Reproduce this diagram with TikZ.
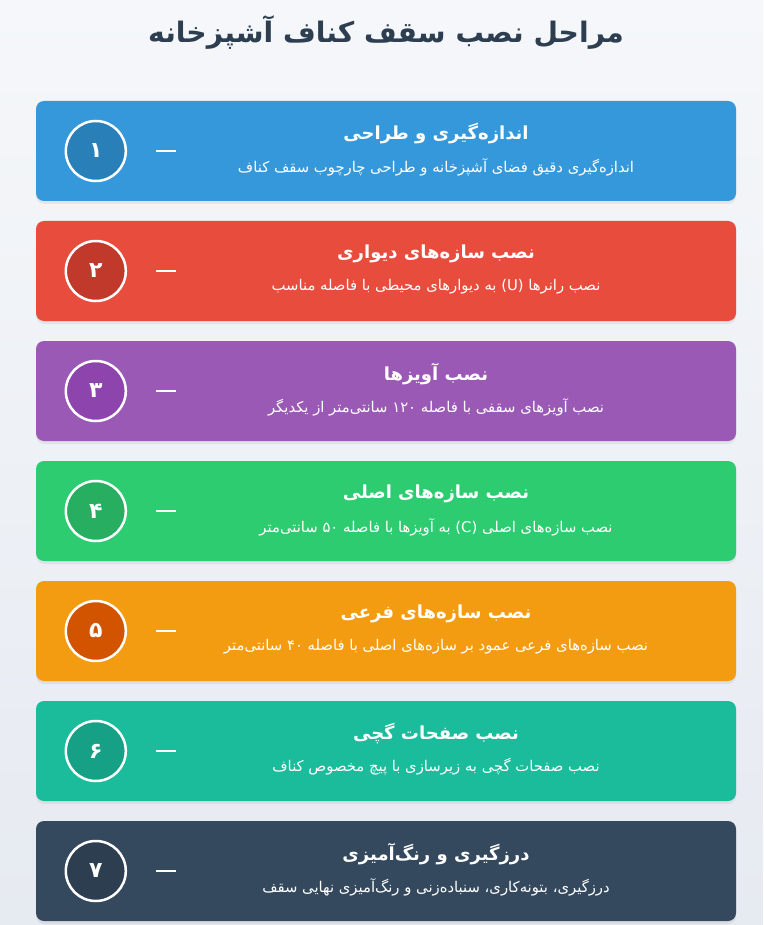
\documentclass[tikz,border=0pt]{standalone}
\usepackage{fontspec}
\newfontfamily\fa[Script=Arabic]{DejaVu Sans}
\TeXXeTstate=1
\usetikzlibrary{shadows}
\definecolor{bgtop}{HTML}{F5F7FA}
\definecolor{bgbot}{HTML}{E6EAF1}
\definecolor{ink}{HTML}{2C3E50}
\definecolor{cA}{HTML}{3498DB}\definecolor{dA}{HTML}{2980B9}
\definecolor{cB}{HTML}{E74C3C}\definecolor{dB}{HTML}{C0392B}
\definecolor{cC}{HTML}{9B59B6}\definecolor{dC}{HTML}{8E44AD}
\definecolor{cD}{HTML}{2ECC71}\definecolor{dD}{HTML}{27AE60}
\definecolor{cE}{HTML}{F39C12}\definecolor{dE}{HTML}{D35400}
\definecolor{cF}{HTML}{1ABC9C}\definecolor{dF}{HTML}{16A085}
\definecolor{cG}{HTML}{34495E}\definecolor{dG}{HTML}{2C3E50}
\tikzset{
  stepbox/.style={draw=none, rounded corners=8pt, minimum width=700pt, minimum height=100pt, inner sep=0pt,
    drop shadow={opacity=0.12, shadow xshift=0pt, shadow yshift=-3pt}},
  numcirc/.style={circle, draw=white, line width=2.5pt, minimum size=60pt, inner sep=0pt, text=white,
    font=\fa\bfseries\fontsize{22}{26}\selectfont},
  dashline/.style={draw=white, line width=2pt},
  steptitle/.style={text=white, inner sep=0pt, font=\fa\bfseries\fontsize{18}{22}\selectfont},
  stepsub/.style={text=white, inner sep=0pt, font=\fa\fontsize{14.8}{18}\selectfont},
  maintitle/.style={text=ink, inner sep=0pt, font=\fa\bfseries\fontsize{28.2}{33}\selectfont}
}
\newcommand\stepitem[7]{%
  \node[stepbox, fill=#3] (box#1) at (386,#2+50) {};
  \node[numcirc, fill=#4] (num#1) at ([xshift=60pt]box#1.west) {#5};
  \coordinate (da#1) at ([xshift=120pt]box#1.west);
  \coordinate (db#1) at ([xshift=140pt]box#1.west);
  \draw[dashline] (da#1) -- (db#1);
  \node[steptitle] (title#1) at (436,#2+33) {#6};
  \node[stepsub] (sub#1) at (436,#2+66) {#7};
}
\begin{document}
\begin{tikzpicture}[x=1pt,y=-1pt]
\useasboundingbox (0,0) rectangle (763,925);
\shade[top color=bgtop,bottom color=bgbot] (0,0) rectangle (763,925);
\node[maintitle] (main) at (386,32) {\beginR مراحل نصب سقف کناف آشپزخانه\endR};
\stepitem{1}{101}{cA}{dA}{۱}{\beginR اندازه^^^^200cگیری و طراحی\endR}{\beginR اندازه^^^^200cگیری دقیق فضای آشپزخانه و طراحی چارچوب سقف کناف\endR}
\stepitem{2}{221}{cB}{dB}{۲}{\beginR نصب سازه^^^^200cهای دیواری\endR}{\beginR نصب رانرها \beginL(U)\endL{} به دیوارهای محیطی با فاصله مناسب\endR}
\stepitem{3}{341}{cC}{dC}{۳}{\beginR نصب آویزها\endR}{\beginR نصب آویزهای سقفی با فاصله ۱۲۰ سانتی^^^^200cمتر از یکدیگر\endR}
\stepitem{4}{461}{cD}{dD}{۴}{\beginR نصب سازه^^^^200cهای اصلی\endR}{\beginR نصب سازه^^^^200cهای اصلی \beginL(C)\endL{} به آویزها با فاصله ۵۰ سانتی^^^^200cمتر\endR}
\stepitem{5}{581}{cE}{dE}{۵}{\beginR نصب سازه^^^^200cهای فرعی\endR}{\beginR نصب سازه^^^^200cهای فرعی عمود بر سازه^^^^200cهای اصلی با فاصله ۴۰ سانتی^^^^200cمتر\endR}
\stepitem{6}{701}{cF}{dF}{۶}{\beginR نصب صفحات گچی\endR}{\beginR نصب صفحات گچی به زیرسازی با پیچ مخصوص کناف\endR}
\stepitem{7}{821}{cG}{dG}{۷}{\beginR درزگیری و رنگ^^^^200cآمیزی\endR}{\beginR درزگیری، بتونه^^^^200cکاری، سنباده^^^^200cزنی و رنگ^^^^200cآمیزی نهایی سقف\endR}
\end{tikzpicture}
\end{document}
